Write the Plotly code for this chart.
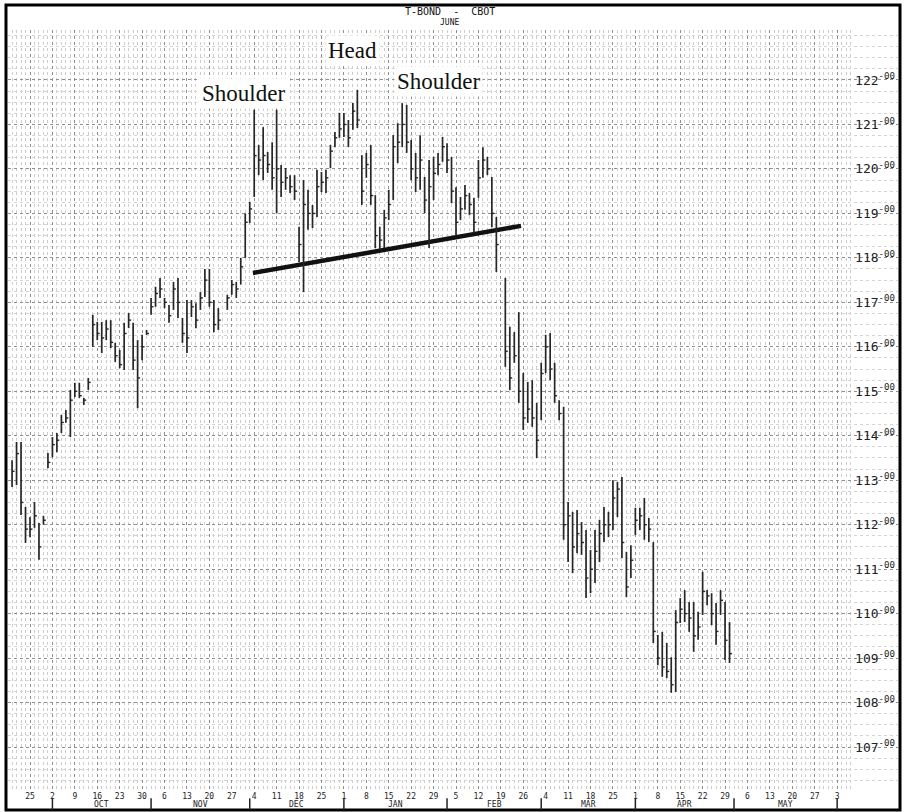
import numpy as np
import pandas as pd
import plotly.graph_objects as go

# ---------------- data ----------------
holidays = ["1995-11-23", "1996-02-19"]
dates = [d for d in pd.bdate_range("1995-09-19", "1996-04-30")
         if d.strftime("%Y-%m-%d") not in holidays]

highs = [113.45, 113.86, 113.86, 112.40, 112.17, 112.51, 112.04, 112.20, 113.61, 113.97,
         114.06, 114.47, 114.58, 115.03, 115.19, 115.19, 114.85, 115.30, 116.72, 116.56,
         116.56, 116.60, 116.60, 116.09, 115.93, 116.54, 116.76, 116.54, 116.15, 116.27,
         116.38, 117.10, 117.35, 117.55, 117.10, 116.94, 117.46, 117.55, 116.65, 117.05,
         117.05, 116.98, 117.23, 117.75, 117.75, 117.05, 116.87,
         117.17, 117.50, 117.46, 118.00, 119.00, 119.26, 121.33, 120.54, 120.94, 120.38,
         120.60, 121.33, 120.09, 120.02, 119.86, 119.86, 118.70, 119.75, 119.53, 119.19,
         119.98, 119.93, 119.98, 120.54, 120.83, 121.26, 121.26, 121.10, 121.48, 121.78,
         120.31, 120.36, 120.54, 119.41, 118.70, 119.08, 119.53, 120.76, 121.03, 121.48,
         121.44, 120.65, 120.36, 120.76, 119.82, 120.20, 120.27, 120.36, 120.72, 120.58,
         120.27, 119.59, 119.37, 119.64, 119.46, 119.35, 120.20, 120.49, 120.27, 119.82,
         118.92,
         117.55, 116.45, 116.33, 116.78, 115.41, 115.21, 115.25, 114.74, 115.64, 116.27,
         116.31, 115.64, 114.80, 114.65, 112.51, 112.29, 112.33, 112.06, 111.88, 111.43,
         111.88, 112.11, 112.40, 112.29, 113.00, 112.96, 113.07, 111.39, 111.54, 112.38,
         112.38, 112.60, 112.15, 111.61, 109.52, 109.59, 109.34, 109.02, 110.08, 110.35,
         110.53, 110.26, 110.26, 110.04, 110.94, 110.53, 110.46, 110.24, 110.53, 110.26,
         109.81]

lows = [112.85, 112.89, 112.22, 111.59, 111.72, 111.93, 111.21, 112.00, 113.27, 113.52,
        113.63, 114.06, 114.29, 113.97, 114.87, 114.85, 114.69, 115.03, 116.00, 116.15,
        115.86, 116.15, 115.97, 115.66, 115.52, 115.48, 116.42, 115.48, 114.62, 115.70,
        116.27, 116.72, 116.90, 117.10, 116.87, 116.54, 116.83, 116.65, 116.09, 115.86,
        116.67, 116.42, 116.83, 117.12, 116.90, 116.33, 116.38,
        116.83, 117.17, 117.10, 117.40, 118.00, 118.78, 119.37, 119.86, 119.75, 119.91,
        119.53, 119.00, 119.37, 119.53, 119.46, 119.30, 117.90, 117.23, 118.63, 118.67,
        118.92, 119.48, 119.46, 120.02, 120.49, 120.70, 120.72, 120.49, 120.88, 120.92,
        119.19, 119.80, 119.19, 118.22, 118.18, 118.22, 118.85, 119.30, 120.13, 120.49,
        120.36, 119.75, 119.48, 119.53, 119.01, 118.22, 119.30, 119.86, 120.16, 119.91,
        119.23, 118.51, 118.85, 119.08, 118.96, 118.56, 119.35, 119.80, 119.86, 118.69,
        117.68,
        115.55, 115.03, 115.64, 114.74, 114.13, 114.29, 114.20, 113.50, 114.35, 115.41,
        115.25, 114.74, 114.35, 111.66, 111.16, 110.91, 111.36, 111.32, 110.35, 110.46,
        110.69, 111.16, 111.61, 111.72, 111.88, 112.17, 111.25, 110.37, 110.80, 111.77,
        111.88, 111.66, 111.61, 109.34, 108.84, 108.58, 108.55, 108.22, 108.24, 109.79,
        109.81, 109.59, 109.14, 109.41, 109.97, 110.19, 109.74, 109.30, 109.97, 108.96,
        108.89]

closes = [113.20, 113.60, 112.50, 111.90, 111.90, 112.20, 111.50, 112.10, 113.40, 113.80,
          113.90, 114.30, 114.40, 114.80, 115.00, 114.90, 114.80, 115.20, 116.50, 116.30,
          116.20, 116.40, 116.10, 115.80, 115.60, 116.30, 116.60, 115.70, 115.30, 116.00,
          116.30, 116.90, 117.20, 117.30, 117.00, 116.70, 117.30, 117.00, 116.30, 116.20,
          116.90, 116.60, 117.10, 117.50, 117.00, 116.50, 116.60,
          117.10, 117.40, 117.30, 117.80, 118.80, 119.10, 120.30, 120.20, 120.30, 120.10,
          119.80, 120.00, 119.70, 119.80, 119.60, 119.50, 118.30, 119.20, 119.00, 119.00,
          119.60, 119.70, 119.80, 120.40, 120.70, 120.90, 121.00, 120.70, 121.30, 121.10,
          119.50, 120.10, 119.40, 118.50, 118.40, 118.90, 119.20, 120.50, 120.60, 121.00,
          120.60, 120.00, 119.80, 120.20, 119.30, 119.60, 119.90, 120.10, 120.50, 120.20,
          119.50, 118.80, 119.10, 119.40, 119.20, 118.80, 119.80, 120.20, 120.00, 119.00,
          118.30,
          115.90, 115.30, 115.80, 115.00, 114.40, 114.60, 114.40, 113.90, 115.40, 116.00,
          115.50, 114.90, 114.50, 112.00, 112.20, 111.50, 111.80, 111.60, 110.80, 111.00,
          111.40, 111.80, 112.00, 112.00, 112.60, 112.80, 111.60, 110.60, 111.20, 112.10,
          112.20, 112.00, 111.90, 109.60, 109.00, 108.80, 108.70, 108.40, 109.80, 110.10,
          110.00, 109.90, 109.50, 109.70, 110.50, 110.40, 110.00, 109.60, 110.30, 109.40,
          109.10]

price_ticks = list(range(107, 123))
month_names = ["OCT", "NOV", "DEC", "JAN", "FEB", "MAR", "APR", "MAY"]
month_starts = ["1995-10-02", "1995-11-01", "1995-12-01", "1996-01-01", "1996-02-01",
                "1996-03-01", "1996-04-01", "1996-05-01", "1996-06-03"]

neck_dates = ["1995-12-01 17:00", "1996-02-23 12:00"]
neck_prices = [117.66, 118.72]

label_texts = ["Shoulder", "Head", "Shoulder"]
label_dates = ["1995-11-29 12:00", "1996-01-03 00:00", "1996-01-30 05:00"]
label_prices = [121.69, 122.67, 121.955]

assert len(dates) == len(highs) == len(lows) == len(closes)

# ---------------- helpers ----------------
base = np.datetime64("1995-09-18")


def pos_to_date(p):
    k = int(np.floor(p))
    frac = p - k
    d = np.busday_offset(base, k, roll="forward")
    return (pd.Timestamp(d) + pd.Timedelta(hours=24 * frac)).strftime("%Y-%m-%d %H:%M")


def date_pos(s):
    return float(np.busday_count(base, np.datetime64(s)))


# ---------------- bars ----------------
bx, by, tx, ty = [], [], [], []
for d, h, l, c in zip(dates, highs, lows, closes):
    ds = d.strftime("%Y-%m-%d")
    bx += [ds, ds, None]
    by += [l, h, None]
    tx += [ds, (d + pd.Timedelta(hours=13)).strftime("%Y-%m-%d %H:%M"), None]
    ty += [c, c, None]

fig = go.Figure()
fig.add_trace(go.Scatter(x=neck_dates, y=neck_prices, mode="lines",
                         line=dict(color="#111111", width=4.5), hoverinfo="skip"))
fig.add_trace(go.Scatter(x=bx, y=by, mode="lines",
                         line=dict(color="#262626", width=1.7), hoverinfo="skip"))
fig.add_trace(go.Scatter(x=tx, y=ty, mode="lines",
                         line=dict(color="#262626", width=1.4), hoverinfo="skip"))

mondays = pd.date_range("1995-09-25", "1996-06-10", freq="W-MON")

fig.update_xaxes(
    type="date",
    range=[pos_to_date(0.094), pos_to_date(198.57)],
    rangebreaks=[dict(bounds=["sat", "mon"])],
    tickmode="array",
    tickvals=[m.strftime("%Y-%m-%d") for m in mondays],
    ticktext=[str(m.day) for m in mondays],
    tickfont=dict(family="DejaVu Sans Mono", size=8, color="#222"),
    ticks="", showline=False, zeroline=False,
    showgrid=True, gridcolor="#8f8f8f", griddash="dot", gridwidth=1,
    minor=dict(dtick=86400000, tick0="1995-09-18", showgrid=True,
               gridcolor="#cdcdcd", griddash="dot", gridwidth=1),
)
fig.update_yaxes(
    side="right",
    range=[106.034, 123.124],
    tickmode="array",
    tickvals=price_ticks,
    ticktext=[f"{v}<sup>-00</sup>" for v in price_ticks],
    ticklabelposition="inside",
    tickfont=dict(family="DejaVu Sans Mono", size=13, color="#222"),
    ticks="", showline=False, zeroline=False,
    showgrid=True, gridcolor="#8f8f8f", griddash="dot", gridwidth=1,
    minor=dict(dtick=0.25, tick0=0, showgrid=True,
               gridcolor="#d4d4d4", griddash="dot", gridwidth=1),
)

shapes = [dict(type="rect", xref="paper", yref="paper", x0=-0.00225, x1=1.00225,
               y0=-0.0263, y1=1.0329, line=dict(color="black", width=3), layer="above")]
for s in month_starts:
    shapes.append(dict(type="line", xref="x", yref="paper", x0=s, x1=s,
                       y0=-0.0263, y1=-0.011, line=dict(color="#222", width=1.5)))

annotations = [
    dict(text="T-BOND  -  CBOT", xref="paper", yref="paper", x=0.4966, y=1.0250,
         showarrow=False, font=dict(family="DejaVu Sans Mono", size=10, color="#111"),
         xanchor="center", yanchor="middle"),
    dict(text="JUNE", xref="paper", yref="paper", x=0.4966, y=1.0098,
         showarrow=False, font=dict(family="DejaVu Sans Mono", size=8, color="#111"),
         xanchor="center", yanchor="middle"),
]
for name, s, e in zip(month_names, month_starts[:-1], month_starts[1:]):
    mid = (date_pos(s) + date_pos(e)) / 2
    annotations.append(dict(text=name, xref="x", yref="paper", x=pos_to_date(mid), y=-0.019,
                            showarrow=False, xanchor="center", yanchor="middle",
                            font=dict(family="DejaVu Sans Mono", size=8, color="#222")))
for t, d, p in zip(label_texts, label_dates, label_prices):
    annotations.append(dict(text=t, x=d, y=p, xref="x", yref="y", showarrow=False,
                            xanchor="center", yanchor="middle", bgcolor="white",
                            borderpad=2,
                            font=dict(family="Liberation Serif", size=23, color="#111")))

fig.update_layout(
    width=905, height=812,
    margin=dict(l=8, r=7, t=30, b=22),
    plot_bgcolor="white", paper_bgcolor="white",
    showlegend=False,
    shapes=shapes,
    annotations=annotations,
)

fig.write_html("out.html", config={"displayModeBar": False},
               post_script="document.body.style.margin='0';")
